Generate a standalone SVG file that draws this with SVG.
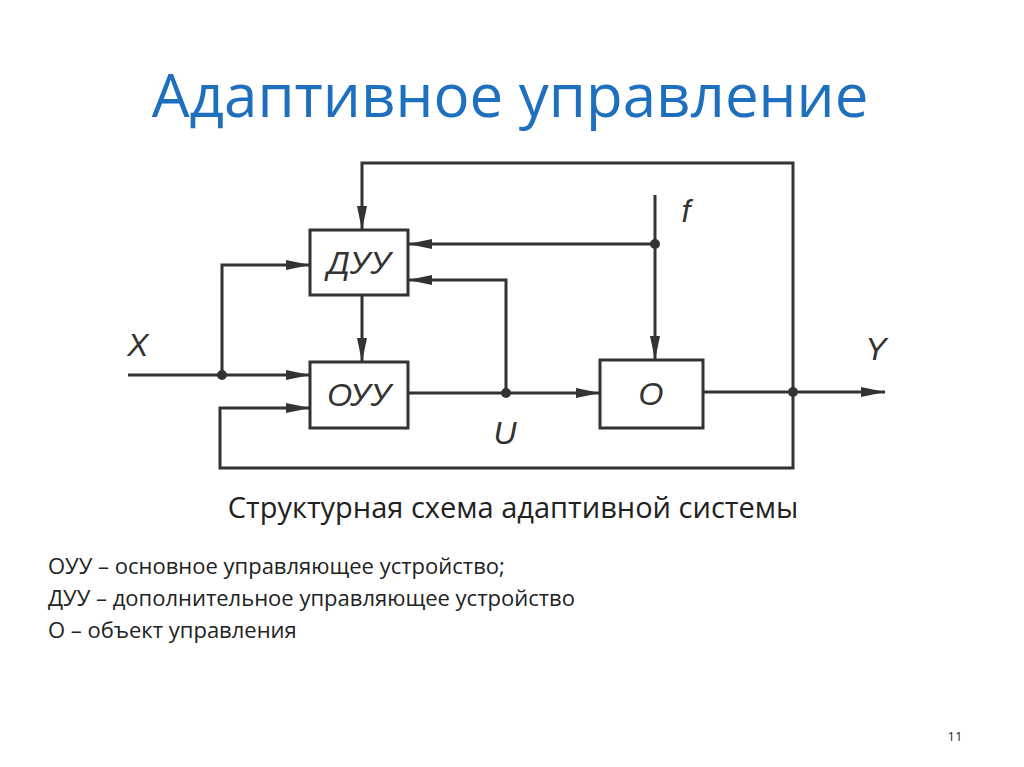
<svg xmlns="http://www.w3.org/2000/svg" width="1024" height="767" viewBox="0 0 1024 767">
<style>
.b{fill:#fff;stroke:#333;stroke-width:3}
.l{fill:none;stroke:#333;stroke-width:3}
.t{font-family:"Liberation Sans",Arial,sans-serif;font-style:italic;fill:#333;font-size:32px}
.s{font-family:"Open Sans","Liberation Sans",sans-serif;fill:#222}
</style>
<defs><marker id="a2" markerWidth="24" markerHeight="10" refX="24" refY="5" orient="auto" markerUnits="userSpaceOnUse" viewBox="0 0 24 10"><path d="M0,0L24,5L0,10z" fill="#333"/></marker></defs>
<rect width="1024" height="767" fill="#fff"/>
<text x="510" y="117" text-anchor="middle" font-family="Open Sans,Liberation Sans,sans-serif" font-size="60" fill="#1f6fbf">Адаптивное управление</text>
<g id="connectors">
<path class="l" d="M793,392V163H362V230" marker-end="url(#a2)"/>
<path class="l" d="M655,195V360" marker-end="url(#a2)"/>
<path class="l" d="M655,244H408" marker-end="url(#a2)"/>
<path class="l" d="M128,375H310" marker-end="url(#a2)"/>
<path class="l" d="M222,375V265H310" marker-end="url(#a2)"/>
<path class="l" d="M362,295V362" marker-end="url(#a2)"/>
<path class="l" d="M408,393H600" marker-end="url(#a2)"/>
<path class="l" d="M506,393V280H408" marker-end="url(#a2)"/>
<path class="l" d="M703,392H885" marker-end="url(#a2)"/>
<path class="l" d="M793,392V468H220V408H310" marker-end="url(#a2)"/>
<circle cx="655" cy="244" r="5" fill="#333"/><circle cx="222" cy="375" r="5" fill="#333"/>
<circle cx="506" cy="393" r="5" fill="#333"/><circle cx="793" cy="392" r="5" fill="#333"/>
</g>
<g id="duu"><rect class="b" x="310" y="230" width="98" height="65"/><text class="t" x="359" y="274" text-anchor="middle">ДУУ</text></g>
<g id="ouu"><rect class="b" x="310" y="362" width="98" height="66"/><text class="t" x="359" y="406" text-anchor="middle">ОУУ</text></g>
<g id="o"><rect class="b" x="600" y="360" width="103" height="68"/><text class="t" x="651" y="405" text-anchor="middle">О</text></g>
<text class="t" x="138" y="356" text-anchor="middle">X</text>
<text class="t" x="876" y="360" text-anchor="middle">Y</text>
<text class="t" x="505" y="444" text-anchor="middle">U</text>
<text class="t" x="686" y="222" text-anchor="middle">f</text>
<text class="s" x="513" y="518" text-anchor="middle" font-size="29">Структурная схема адаптивной системы</text>
<text class="s" x="48" y="574" font-size="22">ОУУ – основное управляющее устройство;</text>
<text class="s" x="48" y="606" font-size="22">ДУУ – дополнительное управляющее устройство</text>
<text class="s" x="48" y="638" font-size="22">О – объект управления</text>
<text class="s" x="955" y="741" text-anchor="middle" font-size="13" fill="#999">11</text>
</svg>
